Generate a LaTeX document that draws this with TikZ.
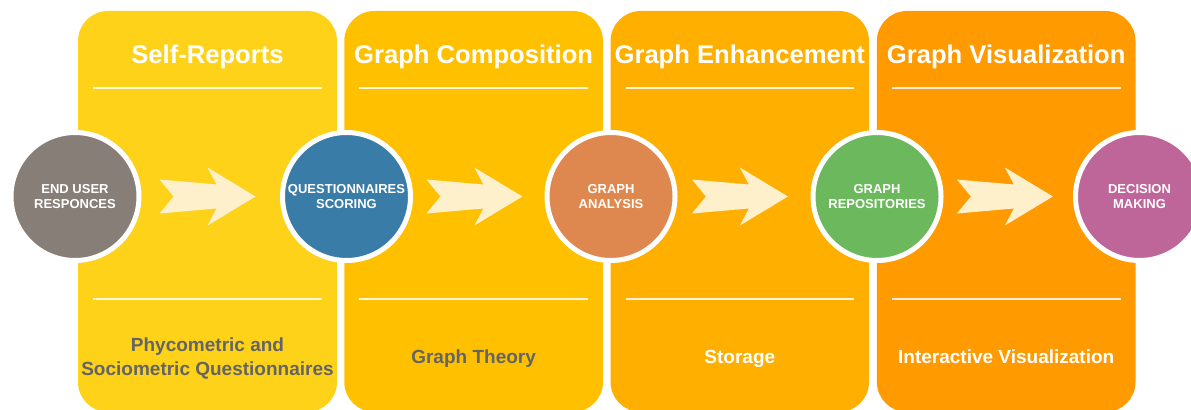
\documentclass[tikz,border=0pt]{standalone}
\usepackage{fontspec}
\setmainfont{Liberation Sans}
\usetikzlibrary{calc}

\definecolor{panelA}{HTML}{FDD219}
\definecolor{panelB}{HTML}{FFC000}
\definecolor{panelC}{HTML}{FFAF00}
\definecolor{panelD}{HTML}{FF9A00}
\definecolor{stoneGray}{HTML}{877E78}
\definecolor{steelBlue}{HTML}{3A7CA8}
\definecolor{clayOrange}{HTML}{DE884F}
\definecolor{leafGreen}{HTML}{6BB85D}
\definecolor{plumPink}{HTML}{BE6699}
\definecolor{creamFill}{HTML}{FFF0CC}
\definecolor{captionGray}{HTML}{636466}

\tikzset{
  panel/.style={rounded corners=22.5pt},
  divider/.style={draw=white, draw opacity=0.85, line width=1.5pt},
  stage/.style={circle, minimum size=96pt, inner sep=0pt, draw=white,
    line width=3.75pt, text=white, align=center,
    font=\bfseries\fontsize{9.75}{10.9}\selectfont},
  heading/.style={anchor=base, text=white,
    font=\bfseries\fontsize{19.2}{22}\selectfont},
  caption/.style={anchor=base, align=center,
    font=\bfseries\fontsize{14.25}{17.5}\selectfont},
  fatarrow/.pic={
    \fill[creamFill] (-96,-17) -- (-39,-12) -- (-48,-29) -- (0,0)
      -- (-48,29) -- (-39,12) -- (-96,17) -- (-82,0) -- cycle;
  }
}

\begin{document}
\begin{tikzpicture}[x=0.75pt, y=-0.75pt]
\useasboundingbox (0,0) rectangle (1191,410);

% stage panels
\fill[panelA, panel] (78,11)    rectangle (337,412);
\fill[panelB, panel] (344.3,11) rectangle (603,412);
\fill[panelC, panel] (610.6,11) rectangle (869,412);
\fill[panelD, panel] (876.9,11) rectangle (1135.5,412);

% divider lines
\foreach \l/\r in {93/322, 359.3/588, 625.6/854, 891.9/1120.5}{
  \draw[divider] (\l,88)  -- (\r,88);
  \draw[divider] (\l,299) -- (\r,299);
}

% headings
\node[heading] (h1) at (207.5,63.3) {Self-Reports};
\node[heading] (h2) at (473.6,63.3) {Graph Composition};
\node[heading] (h3) at (739.8,63.3) {Graph Enhancement};
\node[heading] (h4) at (1006.2,63.3) {Graph Visualization};

% captions (base anchor sits on the last line)
\node[caption, text=captionGray] (t1) at (207.5,375)
  {Phycometric and\\Sociometric Questionnaires};
\node[caption, text=captionGray] (t2) at (473.6,363.3) {Graph Theory};
\node[caption, text=white] (t3) at (739.8,363.3) {Storage};
\node[caption, text=white] (t4) at (1006.2,363.3) {Interactive Visualization};

% process steps
\node[stage, fill=stoneGray]  (c1) at (75,196.5)     {END USER\\RESPONCES};
\node[stage, fill=steelBlue]  (c2) at (346.5,196.5)  {QUESTIONNAIRES\\SCORING};
\node[stage, fill=clayOrange] (c3) at (611,196.5)    {GRAPH\\ANALYSIS};
\node[stage, fill=leafGreen]  (c4) at (877,196.5)    {GRAPH\\REPOSITORIES};
\node[stage, fill=plumPink]   (c5) at (1139.5,196.5) {DECISION\\MAKING};

% arrows between steps
\pic at ($(c1)!0.665!(c2)$) {fatarrow};
\pic at ($(c2)!0.665!(c3)$) {fatarrow};
\pic at ($(c3)!0.665!(c4)$) {fatarrow};
\pic at ($(c4)!0.67!(c5)$)  {fatarrow};
\end{tikzpicture}
\end{document}
